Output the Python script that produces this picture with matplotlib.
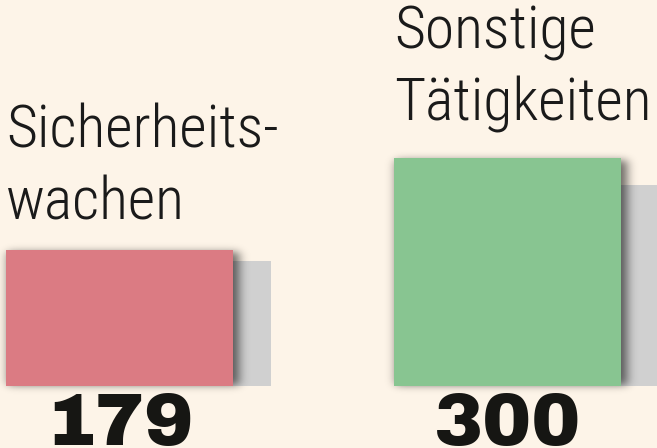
import math

import numpy as np
import matplotlib
matplotlib.use("Agg")
import matplotlib.pyplot as plt

# data
categories = ["Sicherheits-\nwachen", "Sonstige\nTätigkeiten"]
values = [179, 300]
back_values = [165, 265]  # grey bars behind

colors = ["#db7b83", "#88c591"]
back_color = "#d0d0d0"
bg = "#fdf4e8"

fig = plt.figure(figsize=(6.57, 4.48), dpi=100)
fig.patch.set_facecolor(bg)
ax = fig.add_axes([0, 0, 1, 1])
ax.set_facecolor(bg)
ax.set_axis_off()
ax.set_xlim(-0.308, 1.385)
ax.set_ylim(-82, 509)

pos = np.arange(len(values))
width = 0.585
shift = 0.098

ax.bar(pos + shift, back_values, width=width, color=back_color, zorder=1)
bars = ax.bar(pos, values, width=width, color=colors, zorder=3)

# soft drop shadow of the coloured bars (blurred, pushed to the right)
W, H = 657, 448
xs = np.arange(W) + 0.5
ys = np.arange(H) + 0.5
cdf = np.vectorize(lambda t: 0.5 * (1 + math.erf(t / math.sqrt(2))))
alpha = np.zeros((H, W))
for b in bars:
    (x0, y0), (x1, y1) = ax.transData.transform([(b.get_x(), b.get_y()),
                                                  (b.get_x() + b.get_width(), b.get_y() + b.get_height())])
    sx0, sx1 = x0 + 2, x1 + 6
    sy0, sy1 = y0 + 1, y1 - 2
    fx = cdf((sx1 - xs) / 5.0) - cdf((sx0 - xs) / 5.0)
    fy = cdf((sy1 - ys) / 4.0) - cdf((sy0 - ys) / 4.0)
    alpha = np.maximum(alpha, 0.58 * np.outer(fy, fx))
rgba = np.zeros((H, W, 4))
rgba[..., 3] = alpha
ax.imshow(rgba, extent=(*ax.get_xlim(), *ax.get_ylim()), origin="lower",
          aspect="auto", interpolation="nearest", zorder=2)
ax.set_xlim(-0.308, 1.385)
ax.set_ylim(-82, 509)

label_gap = [31, 38]  # px above bar top
for b, lab, gap in zip(bars, categories, label_gap):
    ax.annotate(lab, xy=(b.get_x(), b.get_height()), xytext=(0, gap * 0.72),
                textcoords="offset points", ha="left", va="baseline",
                fontsize=43, family=["Roboto Condensed", "Roboto", "DejaVu Sans"],
                fontweight=300, linespacing=1.33, color="#1a1a1a")

for b, v in zip(bars, values):
    ax.annotate(str(v), xy=(b.get_x() + b.get_width() / 2, 0), xytext=(0, -5 * 0.72),
                textcoords="offset points", ha="center", va="top",
                fontsize=53, family=["Archivo Black", "DejaVu Sans"],
                fontweight="bold", color="#161613")

fig.savefig("out.png", dpi=100, facecolor=bg)
